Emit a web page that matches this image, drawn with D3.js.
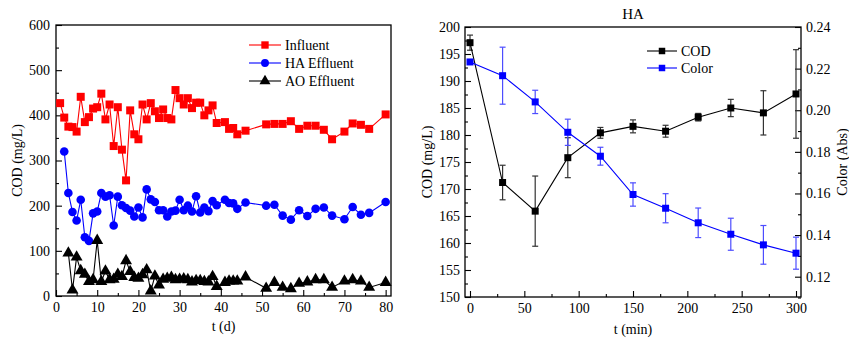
<!DOCTYPE html>
<html><head><meta charset="utf-8">
<script src="https://cdn.jsdelivr.net/npm/d3@7/dist/d3.min.js"></script>
<style>
body{margin:0;background:#fff;}
text{font-family:"Liberation Serif","Times New Roman",serif;}
</style></head>
<body><svg id="chart" width="849" height="339"></svg>
<script>
// ---------- Left chart data ----------
const influentDays = [1,2,3,4,5,6,7,8,9,10,11,12,13,14,15,16,17,18,19,20,21,22,23,24,25,26,27,28,29,30,31,32,33,34,35,36,37,38,39,41,42,43,44,46,51,53,55,57,59,61,63,65,67,70,72,74,76,80];
const influent = [427,395,375,374,364,441,385,396,415,418,448,391,424,332,418,324,256,411,358,347,424,391,427,409,394,413,394,391,456,438,424,438,416,428,428,400,411,422,383,385,370,372,358,366,380,381,381,387,370,377,377,368,347,364,382,379,370,402];
const haDays = [2,3,4,5,6,7,8,9,10,11,12,13,14,15,16,17,18,19,20,21,22,23,24,25,26,27,28,29,30,31,32,33,34,35,36,37,38,39,41,42,43,44,46,51,53,55,57,59,61,63,65,67,70,72,74,76,80];
const haEffluent = [320,228,186,167,213,130,122,183,187,228,220,223,156,220,201,195,189,176,196,174,236,214,208,190,190,176,187,189,213,190,200,187,221,185,196,188,210,201,213,206,205,193,207,200,202,178,169,190,177,193,196,178,170,197,180,184,208];
const aoDays = [3,4,5,6,7,8,9,10,11,12,13,14,15,16,17,18,19,20,21,22,23,24,25,26,27,28,29,30,31,32,33,34,35,36,37,38,39,41,42,43,44,46,51,53,55,57,59,61,63,65,67,70,72,74,76,80];
const aoEffluent = [95,13,86,56,48,32,36,123,32,55,36,37,48,43,78,54,41,39,47,58,11,44,24,37,39,41,36,37,38,36,31,34,34,32,31,43,21,30,33,33,33,42,17,30,19,16,28,31,36,36,19,33,36,33,19,30];
const leftXTicks = [0,10,20,30,40,50,60,70,80];
const leftYTicks = [0,100,200,300,400,500,600];
const leftSeriesNames = ["Influent","HA Effluent","AO Effluent"];

// ---------- Right chart data ----------
const times = [0,30,60,90,120,150,180,210,240,270,300];
const cod = [197.1,171.2,165.9,175.8,180.4,181.6,180.7,183.3,185.0,184.1,187.6];
const codErr = [1.4,3.2,6.5,3.7,1.0,1.2,1.1,0.7,1.6,4.1,8.2];
const color = [0.2232,0.2166,0.2040,0.1894,0.1779,0.1595,0.1529,0.1459,0.1404,0.1353,0.1313];
const colorErr = [0.0006,0.0137,0.0056,0.0063,0.0043,0.0056,0.0070,0.0071,0.0077,0.0093,0.0077];
const rightXTicks = [0,50,100,150,200,250,300];
const rightYTicks = [150,155,160,165,170,175,180,185,190,195,200];
const rightY2Ticks = [0.12,0.14,0.16,0.18,0.20,0.22,0.24];
const rightSeriesNames = ["COD","Color"];
const rightTitle = "HA";

const svg = d3.select("#chart");
const FS = 14;

function frame(g, x0, x1, y0, y1){
  g.append("rect").attr("x",x0).attr("y",y1).attr("width",x1-x0).attr("height",y0-y1)
   .attr("fill","none").attr("stroke","#000").attr("stroke-width",1.3);
}
function styleAxis(sel){
  sel.select(".domain").remove();
  sel.selectAll("line").attr("stroke","#000").attr("stroke-width",1.1);
  sel.selectAll("text").attr("font-size",FS).attr("fill","#000").style("font-family","'Liberation Serif',serif");
}

// ===================== LEFT CHART =====================
const L = {x0:56, x1:391, y0:296, y1:25};
const xL = d3.scaleLinear().domain([0,81.3]).range([L.x0,L.x1]);
const yL = d3.scaleLinear().domain([0,600]).range([L.y0,L.y1]);
const gL = svg.append("g");

gL.append("g").attr("transform",`translate(0,${L.y0})`)
  .call(d3.axisBottom(xL).tickValues(d3.range(5,81,10)).tickSizeInner(-3).tickSizeOuter(0).tickFormat(""))
  .call(styleAxis);
gL.append("g").attr("transform",`translate(${L.x0},0)`)
  .call(d3.axisLeft(yL).tickValues(d3.range(50,600,100)).tickSizeInner(-3).tickSizeOuter(0).tickFormat(""))
  .call(styleAxis);
gL.append("g").attr("transform",`translate(0,${L.y0})`)
  .call(d3.axisBottom(xL).tickValues(leftXTicks).tickSizeInner(-6).tickSizeOuter(0).tickPadding(6).tickFormat(d3.format("d")))
  .call(styleAxis);
gL.append("g").attr("transform",`translate(${L.x0},0)`)
  .call(d3.axisLeft(yL).tickValues(leftYTicks).tickSizeInner(-6).tickSizeOuter(0).tickPadding(6).tickFormat(d3.format("d")))
  .call(styleAxis);
frame(gL, L.x0, L.x1, L.y0, L.y1);

gL.append("text").attr("x",(L.x0+L.x1)/2).attr("y",331).attr("text-anchor","middle").attr("font-size",FS).text("t (d)");
gL.append("text").attr("transform",`translate(22,${(L.y0+L.y1)/2}) rotate(-90)`).attr("text-anchor","middle").attr("font-size",FS).text("COD (mg/L)");

const leftSeries = [
  {name:leftSeriesNames[0], days:influentDays, vals:influent, col:"#ff0000", sym:d3.symbolSquare, size:64},
  {name:leftSeriesNames[1], days:haDays, vals:haEffluent, col:"#0000ff", sym:d3.symbolCircle, size:58},
  {name:leftSeriesNames[2], days:aoDays, vals:aoEffluent, col:"#000000", sym:d3.symbolTriangle, size:62}
];
const lineL = d3.line().x(d=>xL(d[0])).y(d=>yL(d[1]));
leftSeries.forEach(s=>{
  const pts = s.days.map((d,i)=>[d,s.vals[i]]);
  gL.append("path").datum(pts).attr("d",lineL).attr("fill","none").attr("stroke",s.col).attr("stroke-width",1.1);
  gL.selectAll(null).data(pts).enter().append("path")
    .attr("d",d3.symbol().type(s.sym).size(s.size))
    .attr("transform",d=>`translate(${xL(d[0])},${yL(d[1])})`)
    .attr("fill",s.col);
});
leftSeries.forEach((s,i)=>{
  const y = 45 + i*18;
  gL.append("line").attr("x1",249).attr("x2",281).attr("y1",y).attr("y2",y).attr("stroke",s.col).attr("stroke-width",1.1);
  gL.append("path").attr("d",d3.symbol().type(s.sym).size(s.size*0.85)).attr("transform",`translate(265,${y})`).attr("fill",s.col);
  gL.append("text").attr("x",285).attr("y",y+5).attr("font-size",FS).text(s.name);
});

// ===================== RIGHT CHART =====================
const R = {x0:465, x1:801, y0:297, y1:27};
const xR = d3.scaleLinear().domain([-4.6,304.6]).range([R.x0,R.x1]);
const yR = d3.scaleLinear().domain([150,200]).range([R.y0,R.y1]);
const yR2 = d3.scaleLinear().domain([0.11,0.24]).range([R.y0+0.5,R.y1]);
const gR = svg.append("g");

gR.append("g").attr("transform",`translate(0,${R.y0})`)
  .call(d3.axisBottom(xR).tickValues(d3.range(25,300,50)).tickSizeInner(-3).tickSizeOuter(0).tickFormat(""))
  .call(styleAxis);
gR.append("g").attr("transform",`translate(${R.x0},0)`)
  .call(d3.axisLeft(yR).tickValues(d3.range(152.5,200,5)).tickSizeInner(-3).tickSizeOuter(0).tickFormat(""))
  .call(styleAxis);
gR.append("g").attr("transform",`translate(${R.x1},0)`)
  .call(d3.axisRight(yR2).tickValues([0.11,0.13,0.15,0.17,0.19,0.21,0.23]).tickSizeInner(-3).tickSizeOuter(0).tickFormat(""))
  .call(styleAxis);
gR.append("g").attr("transform",`translate(0,${R.y0})`)
  .call(d3.axisBottom(xR).tickValues(rightXTicks).tickSizeInner(-6).tickSizeOuter(0).tickPadding(6).tickFormat(d3.format("d")))
  .call(styleAxis);
gR.append("g").attr("transform",`translate(${R.x0},0)`)
  .call(d3.axisLeft(yR).tickValues(rightYTicks).tickSizeInner(-6).tickSizeOuter(0).tickPadding(5).tickFormat(d3.format("d")))
  .call(styleAxis);
gR.append("g").attr("transform",`translate(${R.x1},0)`)
  .call(d3.axisRight(yR2).tickValues(rightY2Ticks).tickSizeInner(-6).tickSizeOuter(0).tickPadding(5).tickFormat(d3.format(".2f")))
  .call(styleAxis);
frame(gR, R.x0, R.x1, R.y0, R.y1);

gR.append("text").attr("x",(R.x0+R.x1)/2).attr("y",334).attr("text-anchor","middle").attr("font-size",FS).text("t (min)");
gR.append("text").attr("transform",`translate(432,${(R.y0+R.y1)/2}) rotate(-90)`).attr("text-anchor","middle").attr("font-size",FS).text("COD (mg/L)");
gR.append("text").attr("transform",`translate(847,${(R.y0+R.y1)/2}) rotate(-90)`).attr("text-anchor","middle").attr("font-size",FS).text("Color (Abs)");
gR.append("text").attr("x",(R.x0+R.x1)/2).attr("y",19).attr("text-anchor","middle").attr("font-size",15).text(rightTitle);

function errorBars(g, xs, vals, errs, ys, col){
  xs.forEach((t,i)=>{
    const x = xR(t), yt = ys(vals[i]+errs[i]), yb = ys(vals[i]-errs[i]);
    g.append("line").attr("x1",x).attr("x2",x).attr("y1",yt).attr("y2",yb).attr("stroke",col).attr("stroke-width",1.2);
    g.append("line").attr("x1",x-3).attr("x2",x+3).attr("y1",yt).attr("y2",yt).attr("stroke",col).attr("stroke-width",1.2);
    g.append("line").attr("x1",x-3).attr("x2",x+3).attr("y1",yb).attr("y2",yb).attr("stroke",col).attr("stroke-width",1.2);
  });
}
const rightSeries = [
  {name:rightSeriesNames[0], vals:cod, errs:codErr, ys:yR, col:"#000000", ecol:"#333333"},
  {name:rightSeriesNames[1], vals:color, errs:colorErr, ys:yR2, col:"#0000ff", ecol:"#4d4dff"}
];
rightSeries.forEach(s=>{
  errorBars(gR, times, s.vals, s.errs, s.ys, s.ecol);
  const pts = times.map((t,i)=>[t,s.vals[i]]);
  gR.append("path").datum(pts).attr("d",d3.line().x(d=>xR(d[0])).y(d=>s.ys(d[1])))
    .attr("fill","none").attr("stroke",s.col).attr("stroke-width",1.1);
  gR.selectAll(null).data(pts).enter().append("path")
    .attr("d",d3.symbol().type(d3.symbolSquare).size(49))
    .attr("transform",d=>`translate(${xR(d[0])},${s.ys(d[1])})`).attr("fill",s.col);
});
rightSeries.forEach((s,i)=>{
  const y = 51 + i*17;
  gR.append("line").attr("x1",647).attr("x2",677).attr("y1",y).attr("y2",y).attr("stroke",s.col).attr("stroke-width",1.1);
  gR.append("path").attr("d",d3.symbol().type(d3.symbolSquare).size(42)).attr("transform",`translate(662,${y})`).attr("fill",s.col);
  gR.append("text").attr("x",681).attr("y",y+5).attr("font-size",FS).text(s.name);
});
</script></body></html>
